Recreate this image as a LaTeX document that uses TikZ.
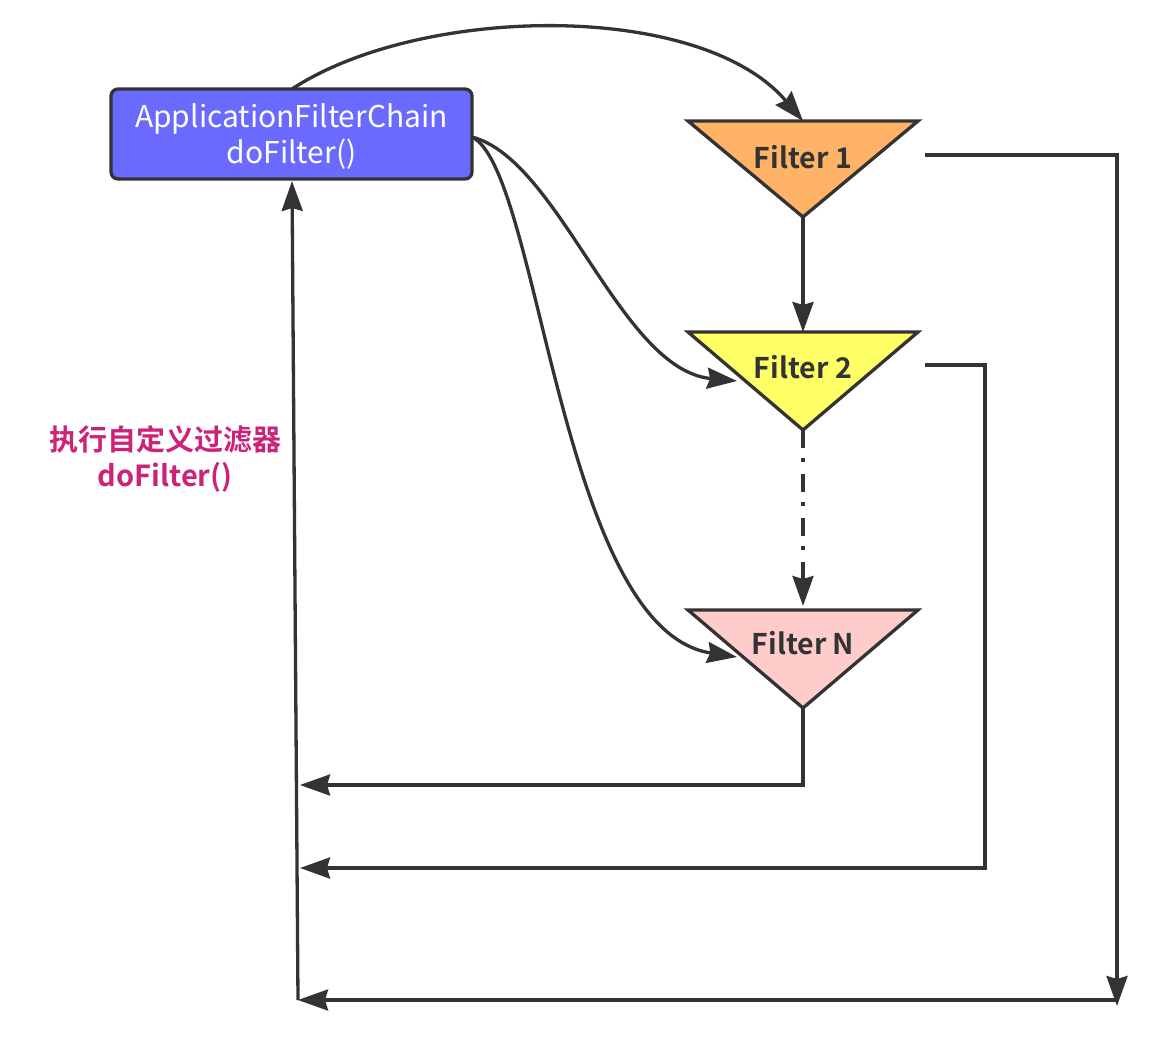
\documentclass[tikz,border=0pt]{standalone}
\usepackage{fontspec}
\setmainfont{Noto Sans CJK SC}[BoldFont={Noto Sans CJK SC Bold}]
\usetikzlibrary{arrows.meta}
\definecolor{ln}{HTML}{333333}
\definecolor{boxblue}{HTML}{6A6AFF}
\definecolor{f1c}{HTML}{FFB366}
\definecolor{f2c}{HTML}{FFFF66}
\definecolor{fnc}{HTML}{FFCCCC}
\definecolor{lab}{HTML}{CC2277}
\tikzset{
  conn/.style={draw=ln, line width=3.3pt, -{Stealth[length=30pt,width=21pt,inset=3pt]}},
  tri/.style={draw=ln, line width=3.3pt, line join=miter},
  ftext/.style={font=\fontsize{28.5}{30}\selectfont\bfseries, text=ln, inner sep=0pt},
}
\begin{document}
\begin{tikzpicture}[x=1pt,y=-1pt]
\useasboundingbox (0,0) rectangle (1174,1044);
% main box
\node[draw=ln, line width=3.3pt, fill=boxblue, rounded corners=7pt, minimum width=361pt, minimum height=90pt, text=white, align=center, font=\fontsize{30}{36}\selectfont, inner sep=0pt] (chain) at (291.5,134) {};
\node[text=white, align=center, font=\fontsize{30}{36}\selectfont, inner sep=0pt] (chaintext) at (291.5,136) {ApplicationFilterChain\\doFilter()};
% triangles
\path[tri, fill=f1c] (688,121) -- (918,121) -- (803,217) -- cycle;
\path[tri, fill=f2c] (688,332) -- (918,332) -- (803,430) -- cycle;
\path[tri, fill=fnc] (688,610) -- (918,610) -- (803,708) -- cycle;
\node[ftext] (f1) at (803,157) {Filter 1};
\node[ftext] (f2) at (803,367) {Filter 2};
\node[ftext] (fn) at (803,643) {Filter N};
\coordinate (f1top) at (803,121);
\coordinate (f1apex) at (803,217);
\coordinate (f1right) at (925,155);
\coordinate (f2top) at (803,332);
\coordinate (f2apex) at (803,430);
\coordinate (f2right) at (925,365);
\coordinate (f2left) at (737,381);
\coordinate (fntop) at (803,606);
\coordinate (fnapex) at (803,708);
\coordinate (fnleft) at (737,657);
\coordinate (ctop) at (292,89);
\coordinate (cbot) at (292,181);
\coordinate (cright) at (472,137);
\coordinate (ret1) at (300,785);
\coordinate (ret2) at (300,868);
\coordinate (ret3) at (298,1000);
\coordinate (corner1) at (1117,155);
\coordinate (down1) at (1117,1006);
\coordinate (bot1) at (1117,1000);
% label
\node[text=lab, align=center, font=\fontsize{29}{36}\selectfont\bfseries, inner sep=0pt] (lbl) at (165,459) {执行自定义过滤器\\doFilter()};
% curves
\draw[conn] (ctop) .. controls (420,5) and (700,0) .. (f1top);
\draw[conn] (cright) .. controls (560,160) and (620,370) .. (f2left);
\draw[conn] (cright) .. controls (540,170) and (560,630) .. (fnleft);
% straight
\draw[conn] (f1apex) -- (f2top);
\draw[conn, dash pattern=on 18pt off 10pt on 4pt off 12pt] (f2apex) -- (fntop);
\draw[conn] (fnapex) -- (803,785) -- (ret1);
\draw[conn] (f2right) -- (985,365) -- (985,868) -- (ret2);
\draw[conn] (f1right) -- (corner1) -- (down1);
\draw[conn] (bot1) -- (ret3);
\draw[conn] (ret3) -- (cbot);
\end{tikzpicture}
\end{document}
